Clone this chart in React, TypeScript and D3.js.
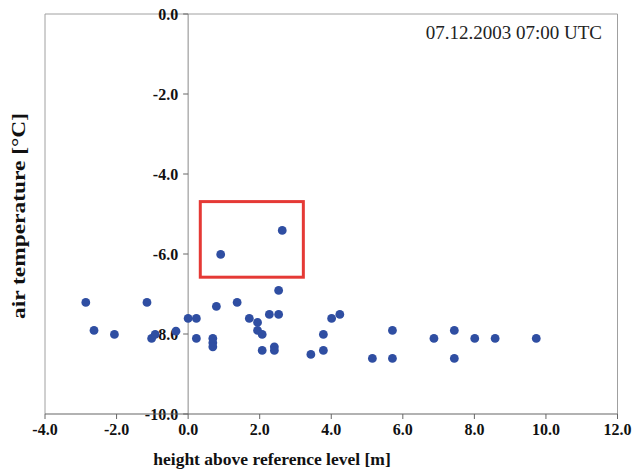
import React from "react";
import * as d3 from "d3";

const heights = [
  -2.86, -2.63, -2.06, -1.15, -1.02, -0.92, -0.34, 0.0, 0.23, 0.23, 0.69, 0.69, 0.69,
  0.91, 0.79, 1.37, 1.71, 1.94, 1.94, 2.07, 2.07, 2.27, 2.53, 2.53, 2.41, 2.41, 2.63,
  3.43, 3.78, 3.78, 4.01, 4.24, 5.15, 5.71, 5.71, 6.87, 7.44, 7.44, 8.01, 8.58, 9.73,
];
const temps = [
  -7.21, -7.91, -8.01, -7.21, -8.11, -8.01, -7.93, -7.61, -7.61, -8.11, -8.11, -8.22, -8.32,
  -6.01, -7.31, -7.21, -7.61, -7.71, -7.91, -8.01, -8.41, -7.51, -7.51, -6.91, -8.32, -8.41, -5.41,
  -8.51, -8.41, -8.01, -7.61, -7.51, -8.61, -8.61, -7.91, -8.11, -7.91, -8.61, -8.11, -8.11, -8.11,
];
const xTicks = [-4, -2, 0, 2, 4, 6, 8, 10, 12];
const yTicks = [0, -2, -4, -6, -8, -10];
const highlightX = [0.34, 3.22];
const highlightY = [-4.69, -6.58];
const timeLabel = "07.12.2003 07:00 UTC";
const xTitle = "height above reference level [m]";
const yTitle = "air temperature [°C]";

export default function App() {
  const W = 632, H = 475;
  const left = 45, right = 617.5, top = 14, bottom = 414;
  const x = d3.scaleLinear().domain([-4, 12]).range([left, right]);
  const y = d3.scaleLinear().domain([-10, 0]).range([bottom, top]);
  const font = "'Liberation Serif', 'Times New Roman', serif";
  const x0 = x(0);
  return (
    <svg width={W} height={H} style={{ position: "absolute", left: 0, top: 0, background: "#fff" }}>
      {/* frame */}
      <line x1={left} x2={right} y1={top} y2={top} stroke="#a0a0a0" strokeWidth={1} />
      <line x1={left} x2={left} y1={top} y2={bottom} stroke="#a0a0a0" strokeWidth={1} />
      <line x1={right} x2={right} y1={top} y2={bottom} stroke="#a0a0a0" strokeWidth={1} />
      {/* y axis at x=0 */}
      <line x1={x0} x2={x0} y1={top} y2={bottom} stroke="#8a8a8a" strokeWidth={1} />
      {yTicks.map((t) => (
        <g key={"y" + t}>
          <line x1={x0 - 5} x2={x0} y1={y(t)} y2={y(t)} stroke="#666" strokeWidth={1} />
          <text x={x0 - 10} y={y(t)} dy="0.35em" textAnchor="end" fontFamily={font} fontWeight="bold" fontSize={16} fill="#111">
            {t.toFixed(1)}
          </text>
        </g>
      ))}
      {/* x axis */}
      <line x1={left} x2={right} y1={bottom} y2={bottom} stroke="#666" strokeWidth={1.2} />
      {xTicks.map((t) => (
        <g key={"x" + t}>
          <line x1={x(t)} x2={x(t)} y1={bottom} y2={bottom + 5} stroke="#666" strokeWidth={1} />
          <text x={x(t)} y={bottom + 21} textAnchor="middle" fontFamily={font} fontWeight="bold" fontSize={16} fill="#111">
            {t.toFixed(1)}
          </text>
        </g>
      ))}
      {/* highlight box */}
      <rect
        x={x(highlightX[0])}
        y={y(highlightY[0])}
        width={x(highlightX[1]) - x(highlightX[0])}
        height={y(highlightY[1]) - y(highlightY[0])}
        fill="none"
        stroke="#e53935"
        strokeWidth={3}
      />
      {/* points */}
      {heights.map((h, i) => (
        <circle key={i} cx={x(h)} cy={y(temps[i])} r={4.4} fill="#2f4ea2" />
      ))}
      {/* labels */}
      <text x={602} y={39} textAnchor="end" fontFamily={font} fontSize={19} fill="#222">
        {timeLabel}
      </text>
      <text x={272} y={465} textAnchor="middle" fontFamily={font} fontWeight="bold" fontSize={17.5} fill="#111">
        {xTitle}
      </text>
      <text
        transform={`translate(25,216) rotate(-90)`}
        textAnchor="middle"
        fontFamily={font}
        fontWeight="bold"
        fontSize={18}
        textLength={206}
        lengthAdjust="spacingAndGlyphs"
        fill="#111"
      >
        {yTitle}
      </text>
    </svg>
  );
}
